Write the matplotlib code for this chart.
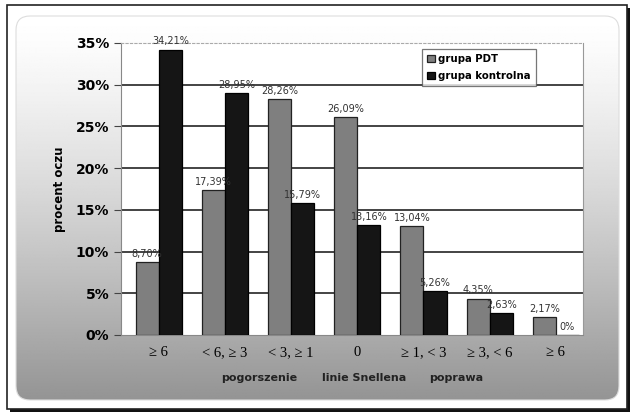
import numpy as np
import matplotlib.pyplot as plt
from matplotlib.patches import FancyBboxPatch, Rectangle

# Dane: procent oczu w poszczególnych przedziałach zmiany ostrości wzroku
kategorie = ["≥ 6", "< 6, ≥ 3", "< 3, ≥ 1", "0", "≥ 1, < 3", "≥ 3, < 6", "≥ 6"]
grupa_pdt = [8.70, 17.39, 28.26, 26.09, 13.04, 4.35, 2.17]
grupa_kontrolna = [34.21, 28.95, 15.79, 13.16, 5.26, 2.63, 0.0]
etykiety_y = [0, 5, 10, 15, 20, 25, 30, 35]


def fmt_pl(v):
    # polski zapis z przecinkiem, 0 bez miejsc po przecinku
    if v == 0:
        return "0%"
    return f"{v:.2f}%".replace(".", ",")


fig = plt.figure(figsize=(6.37, 4.18), dpi=100)

# Tło: ramka i zaokrąglony panel z gradientem
bg = fig.add_axes([0, 0, 1, 1], zorder=-10)
bg.set_xlim(0, 637)
bg.set_ylim(418, 0)
bg.axis("off")

bg.add_patch(Rectangle((10, 8), 620, 404, facecolor="#111111", edgecolor="none"))
bg.add_patch(Rectangle((7, 5), 620, 404, facecolor="white", edgecolor="#222222", lw=1.2))

grad = np.linspace(0, 1, 256)[:, None]
grad = 1.0 - 0.42 * grad ** 1.3
img = bg.imshow(np.tile(grad, (1, 10)), cmap="gray", vmin=0, vmax=1,
                extent=(16, 619, 400, 16), aspect="auto", zorder=1)
panel = FancyBboxPatch((16, 16), 603, 384, boxstyle="round,pad=0,rounding_size=14",
                       facecolor="none", edgecolor="#dddddd", lw=0.8, zorder=2)
bg.add_patch(panel)
img.set_clip_path(panel)

# Wykres słupkowy
ax = fig.add_axes([121 / 637, 1 - 335 / 418, 462 / 637, 292 / 418])
ax.set_facecolor("white")

x = np.arange(len(kategorie))
w = 0.35
b1 = ax.bar(x - w / 2, grupa_pdt, w, color="#7f7f7f", edgecolor="#222222",
            lw=0.9, label="grupa PDT", zorder=3)
b2 = ax.bar(x + w / 2, grupa_kontrolna, w, color="#151515", edgecolor="#000000",
            lw=0.9, label="grupa kontrolna", zorder=3)

for bars, vals in ((b1, grupa_pdt), (b2, grupa_kontrolna)):
    for b, v in zip(bars, vals):
        ax.text(b.get_x() + b.get_width() / 2, v + 0.4, fmt_pl(v),
                ha="center", va="bottom", fontsize=7, color="#333333", zorder=4)

ax.set_ylim(0, 35)
ax.set_xlim(-0.57, 6.41)
ax.set_yticks(etykiety_y)
ax.set_yticklabels([f"{v}%" for v in etykiety_y], fontsize=10, fontweight="bold")
ax.set_xticks(x)
ax.set_xticklabels(kategorie, fontsize=10.5, family="Liberation Serif")
ax.tick_params(axis="x", length=0, pad=8)
ax.tick_params(axis="y", length=5, width=0.8, color="#444444", direction="out")

for y in etykiety_y[1:-1]:
    ax.axhline(y, color="#111111", lw=1.1, zorder=1)

ax.spines["top"].set_color("#aaaaaa")
ax.spines["top"].set_linestyle((0, (2, 2)))
ax.spines["right"].set_color("#999999")
ax.spines["left"].set_color("#888888")
ax.spines["bottom"].set_color("#888888")

ax.set_ylabel("procent oczu", fontsize=8.5, fontweight="bold")
ax.yaxis.set_label_coords(-0.119, 0.5)

leg = ax.legend(loc="upper left", bbox_to_anchor=(0.651, 0.98), fontsize=7.3,
                frameon=True, fancybox=False, shadow=False, handlelength=0.8,
                handleheight=0.8, handletextpad=0.3, borderpad=0.5,
                labelspacing=0.7, borderaxespad=0)
leg.get_frame().set_edgecolor("#555555")
leg.get_frame().set_linewidth(0.9)
for t in leg.get_texts():
    t.set_fontweight("bold")

# Opisy grup kategorii pod osią X
for tekst, xp in (("pogorszenie", 259), ("linie Snellena", 364), ("poprawa", 456)):
    fig.text(xp / 637, 1 - 378 / 418, tekst, ha="center", va="center",
             fontsize=8, fontweight="bold", color="#222222")

fig.savefig("out.png", dpi=100)
